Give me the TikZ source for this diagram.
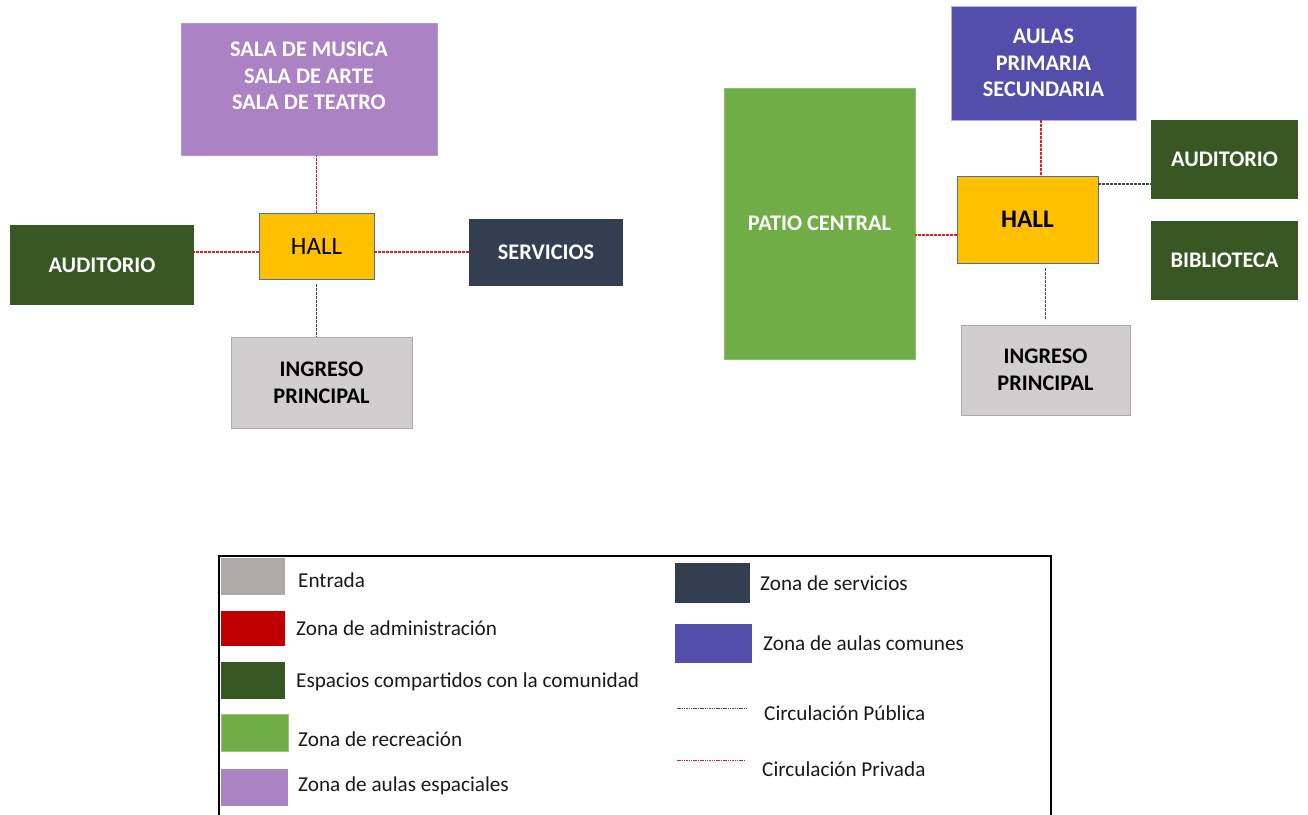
\documentclass[tikz,border=0pt]{standalone}
\usepackage{fontspec}
\setmainfont{Carlito}
\usetikzlibrary{calc}
\definecolor{purpL}{HTML}{AB83C5}
\definecolor{hallY}{HTML}{FFC000}
\definecolor{hallB}{HTML}{4A6FB0}
\definecolor{darkG}{HTML}{385723}
\definecolor{servC}{HTML}{333F50}
\definecolor{ingG}{HTML}{D0CECE}
\definecolor{ingB}{HTML}{AFABAB}
\definecolor{patioG}{HTML}{70AD47}
\definecolor{aulaP}{HTML}{534EAB}
\definecolor{entG}{HTML}{AEAAAA}
\definecolor{admR}{HTML}{C00000}
\definecolor{pubL}{HTML}{444B55}
\definecolor{privL}{HTML}{E02020}
\definecolor{txtK}{HTML}{1A1A1A}
\tikzset{
  box/.style={rectangle, inner sep=0pt, outer sep=0pt, line width=0.8pt, align=center},
  wlabel/.style={text=white, font=\fontsize{22.3}{26.7}\selectfont\bfseries},
  blabel/.style={text=black, font=\fontsize{22.3}{26.7}\selectfont\bfseries},
  privline/.style={privL, line width=1.4pt, dash pattern=on 2.6pt off 1.4pt},
  publine/.style={pubL, line width=1.4pt, dash pattern=on 2.6pt off 1.4pt},
  legsw/.style={rectangle, inner sep=0pt, outer sep=0pt},
  legtxt/.style={anchor=west, inner sep=0pt, text=txtK, font=\fontsize{21.2}{25}\selectfont},
}
\begin{document}
\begin{tikzpicture}[x=1pt, y=-1pt]
\useasboundingbox (0,0) rectangle (1308,814);
\clip (0,0) rectangle (1308,814);
% ---------- left diagram ----------
\node[box, fill=purpL, draw=purpL!85!white, minimum width=256, minimum height=132] (sala) at (309,89) {};
\node[wlabel, align=center] (salaT) at (309,76) {SALA DE MUSICA\\SALA DE ARTE\\SALA DE TEATRO};
\node[box, fill=hallY, draw=hallB, minimum width=115, minimum height=66, font=\fontsize{25}{28}\selectfont] (hallL) at (316.5,246) {HALL};
\node[box, fill=darkG, minimum width=184, minimum height=80, wlabel] (audL) at (102,265) {AUDITORIO};
\node[box, fill=servC, minimum width=154, minimum height=67, wlabel] (serv) at (546,252.5) {SERVICIOS};
\node[box, fill=ingG, draw=ingB, minimum width=181, minimum height=91, blabel] (ingL) at (321.5,382.5) {INGRESO\\PRINCIPAL};
\draw[privline] (hallL.north) -- (hallL.north |- sala.south);
\draw[privline] ([yshift=-6]hallL.west) -- ([yshift=-6]hallL.west -| audL.east);
\draw[privline] ([yshift=-6]hallL.east) -- ([yshift=-6]hallL.east -| serv.west);
\draw[publine, shorten <=5pt] (hallL.south) -- (hallL.south |- ingL.north);
% ---------- right diagram ----------
\node[box, fill=patioG, draw=patioG!80!white, minimum width=191, minimum height=271, wlabel] (patio) at (819.5,223.5) {PATIO CENTRAL};
\node[box, fill=aulaP, draw=purpL!70!white, minimum width=185, minimum height=114, wlabel] (aulas) at (1043.5,63) {AULAS\\PRIMARIA\\SECUNDARIA};
\node[box, fill=hallY, draw=hallB, minimum width=141, minimum height=87, font=\fontsize{25.3}{28}\selectfont\bfseries] (hallR) at (1027.5,219.5) {HALL};
\node[box, fill=darkG, minimum width=147, minimum height=79, wlabel] (audR) at (1224.5,159.5) {AUDITORIO};
\node[box, fill=darkG, minimum width=147, minimum height=79, wlabel] (bibl) at (1224.5,260.5) {BIBLIOTECA};
\node[box, fill=ingG, draw=ingB, minimum width=169, minimum height=90, blabel] (ingR) at (1045.5,370) {INGRESO\\PRINCIPAL};
\draw[privline] ([xshift=-2.5]aulas.south) -- ([xshift=-2.5]aulas.south |- hallR.north);
\draw[privline] ([yshift=-15.5]hallR.west) -- ([yshift=-15.5]hallR.west -| patio.east);
\draw[publine] ([yshift=-8]hallR.north east) -- ([yshift=-8]hallR.north east -| audR.west);
\draw[publine, shorten <=5pt, shorten >=5pt] (ingR.north |- hallR.south) -- (ingR.north);
% ---------- legend ----------
\coordinate (fr1) at (219,830);
\coordinate (fr2) at (219,555.5);
\coordinate (fr3) at (1051,555.5);
\coordinate (fr4) at (1051,830);
\draw[line width=2pt, black] (fr1) -- (fr2) -- (fr3) -- (fr4);
\node[legsw, fill=entG, minimum width=64, minimum height=37] (s1) at (253,576.5) {};
\node[legtxt] (t1) at (298,580) {Entrada};
\node[legsw, fill=admR, minimum width=64, minimum height=35] (s2) at (253,628.5) {};
\node[legtxt] (t2) at (296,628) {Zona de administración};
\node[legsw, fill=darkG, minimum width=64, minimum height=37] (s3) at (253,680.5) {};
\node[legtxt] (t3) at (296,682) {Espacios compartidos con la comunidad};
\node[legsw, fill=patioG, draw=patioG!70!white, minimum width=67, minimum height=37] (s4) at (254.5,732.5) {};
\node[legtxt] (t4) at (298,739) {Zona de recreación};
\node[legsw, fill=purpL, minimum width=67, minimum height=37] (s5) at (254.5,787.5) {};
\node[legtxt] (t5) at (298,786) {Zona de aulas espaciales};
\node[legsw, fill=servC, minimum width=75, minimum height=40] (s6) at (712.5,583) {};
\node[legtxt] (t6) at (760,583) {Zona de servicios};
\node[legsw, fill=aulaP, minimum width=77, minimum height=39] (s7) at (713.5,643.5) {};
\node[legtxt] (t7) at (763,643) {Zona de aulas comunes};
\coordinate (p1) at (677,708);
\coordinate (p2) at (747,708);
\draw[publine, line width=1pt, dash pattern=on 1.5pt off 0.8pt] (p1) -- (p2);
\node[legtxt] (t8) at (764,713) {Circulación Pública};
\coordinate (r1) at (677,760);
\coordinate (r2) at (745,760);
\draw[privline, line width=1pt, dash pattern=on 1.5pt off 0.8pt] (r1) -- (r2);
\node[legtxt] (t9) at (762,769) {Circulación Privada};
\end{tikzpicture}
\end{document}
